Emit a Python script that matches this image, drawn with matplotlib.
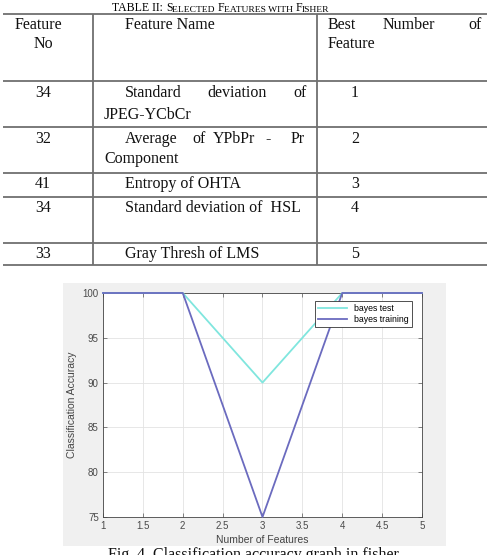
import numpy as np
import matplotlib
matplotlib.use('Agg')
import matplotlib.pyplot as plt
from matplotlib.patches import Rectangle

# data for the table
feature_no = ['34', '32', '41', '34', '33']
best_number = ['1', '2', '3', '4', '5']

# data for the chart
n_features = [1, 2, 3, 4, 5]
bayes_test = [100, 100, 90, 100, 100]
bayes_training = [100, 100, 75, 100, 100]
x_ticks = [1, 1.5, 2, 2.5, 3, 3.5, 4, 4.5, 5]
y_ticks = [75, 80, 85, 90, 95, 100]

W, H = 489, 555
SERIF = 'Liberation Serif'
SANS = 'Liberation Sans'
FS = 11.5

fig = plt.figure(figsize=(W / 100, H / 100), dpi=100)
fig.patch.set_facecolor('white')

# overlay axes in pixel coordinates for the table / caption
ov = fig.add_axes([0, 0, 1, 1], zorder=0)
ov.set_xlim(0, W)
ov.set_ylim(H, 0)
ov.axis('off')

# --- table title (small caps)
parts = [('TABLE II: ', 8.5), ('S', 8.5), ('ELECTED ', 6.8), ('F', 8.5), ('EATURES WITH ', 6.8),
         ('F', 8.5), ('ISHER', 6.8)]
t = ov.text(112, 11, parts[0][0], fontsize=parts[0][1], family=SERIF, ha='left', va='baseline')
for txt, sz in parts[1:]:
    t = ov.annotate(txt, xy=(1, 0), xycoords=t, fontsize=sz, family=SERIF,
                    ha='left', va='bottom')

# --- table lines
line_col = '#707070'
h_lines = [14, 81, 127, 173, 197, 243, 265]
for y in h_lines:
    ov.plot([3, 487], [y, y], color=line_col, lw=1.3, solid_capstyle='butt')
for x in [93, 317]:
    ov.plot([x, x], [14, 265], color=line_col, lw=1.3, solid_capstyle='butt')

def put(x, y, s, ha='left'):
    ov.text(x, y, s, fontsize=FS, family=SERIF, ha=ha, va='baseline', color='#111111')

# header
put(38, 29, 'Feature', ha='center')
put(43, 48, 'No', ha='center')
put(125, 29, 'Feature Name')
put(328, 29, 'Best')
put(383, 29, 'Number')
put(468, 29, 'of')
put(328, 48, 'Feature')

# rows
row_base = [97, 143, 188, 212, 258]
for fn, bn, yb in zip(feature_no, best_number, row_base):
    put(43, yb, fn, ha='center')
    put(355, yb, bn, ha='center')

put(125, 97, 'Standard')
put(207, 97, 'deviation')
put(293, 97, 'of')
put(104, 119, 'JPEG-YCbCr')
put(125, 143, 'Average')
put(192, 143, 'of')
put(213, 143, 'YPbPr')
put(265, 143, '-')
put(291, 143, 'Pr')
put(104, 163, 'Component')
put(125, 188, 'Entropy of OHTA')
put(125, 212, 'Standard deviation of  HSL')
put(125, 258, 'Gray Thresh of LMS')

# gray figure background for the chart
ov.add_patch(Rectangle((63, 283), 383, 263, facecolor='#f0f0f0', edgecolor='none'))

# caption (cut at bottom, as in the source page)
ov.text(108, 559, 'Fig. 4. Classification accuracy graph in fisher', fontsize=FS,
        family=SERIF, ha='left', va='baseline', color='#111111')

# --- chart
left, right, top, bottom = 103, 422, 293, 517
ax = fig.add_axes([left / W, (H - bottom) / H, (right - left) / W, (bottom - top) / H], zorder=2)
ax.set_facecolor('white')
ax.plot(n_features, bayes_test, color='#80e6de', lw=1.3, label='bayes test',
        clip_on=False, zorder=3)
ax.plot(n_features, bayes_training, color='#6b6bbf', lw=1.3, label='bayes training',
        clip_on=False, zorder=4)
ax.set_xlim(1, 5)
ax.set_ylim(75, 100)
ax.set_xticks(x_ticks)
ax.set_xticklabels([f'{v:g}' for v in x_ticks])
ax.set_yticks(y_ticks)
ax.grid(True, color='#e3e3e3', lw=0.6)
ax.set_axisbelow(True)
ax.tick_params(direction='in', length=3, width=0.5, top=True, right=True,
               labelsize=7, colors='#555555', labelcolor='#4a4a4a', pad=3)
for lab in ax.get_xticklabels() + ax.get_yticklabels():
    lab.set_family(SANS)
for sp in ax.spines.values():
    sp.set_color('#444444')
    sp.set_linewidth(0.6)
ax.set_xlabel('Number of Features', fontsize=7.5, family=SANS, color='#444444', labelpad=3)
ax.set_ylabel('Classification Accuracy', fontsize=7.5, family=SANS, color='#444444', labelpad=4)

leg = ax.legend(loc='upper right', bbox_to_anchor=(412 / W, 1 - 301 / H),
                bbox_transform=fig.transFigure, borderaxespad=0, fancybox=False,
                framealpha=1, edgecolor='#333333', prop={'family': SANS, 'size': 6.3},
                handlelength=3.3, borderpad=0.35, labelspacing=0.2, handletextpad=0.8)
leg.get_frame().set_linewidth(0.6)
leg.set_zorder(5)

fig.savefig('out.png', dpi=100)
